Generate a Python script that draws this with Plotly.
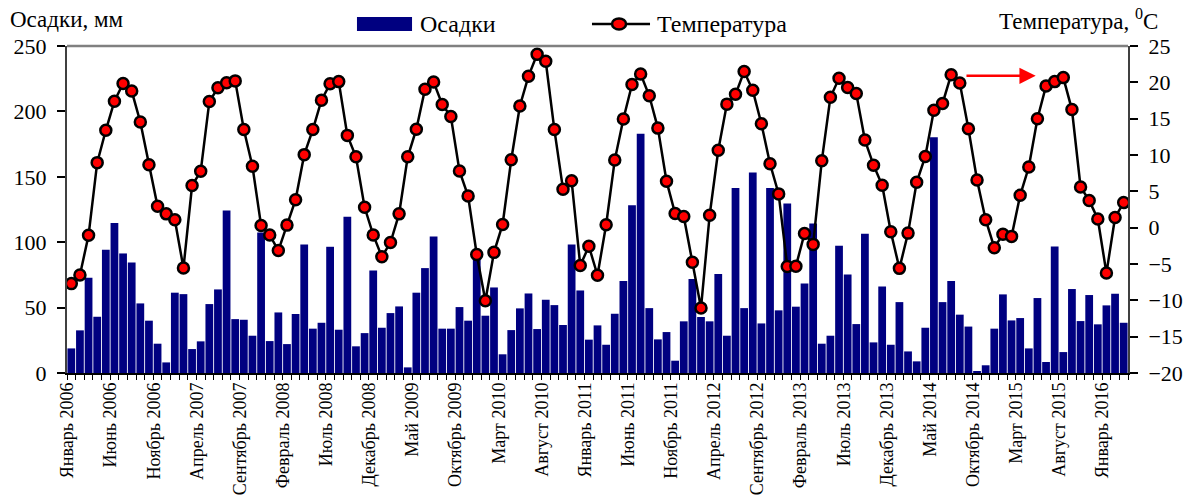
import plotly.graph_objects as go

# Monthly precipitation (mm) and mean air temperature (deg C), January 2006 - March 2016
precip = [
    18.8, 32.6, 72.8, 43.0, 94.2, 114.6, 91.4, 84.5, 53.2, 40.0, 22.4, 8.1,
    61.4, 60.3, 18.3, 24.2, 52.7, 63.9, 124.2, 41.2, 40.7, 28.5, 107.4, 24.4,
    46.3, 22.1, 45.1, 98.3, 33.9, 38.4, 96.5, 33.1, 119.4, 20.4, 30.5, 78.4,
    34.6, 45.8, 50.9, 4.3, 61.4, 80.2, 104.4, 33.9, 33.9, 50.4, 40.0, 91.6,
    43.8, 65.4, 14.3, 32.8, 49.4, 60.8, 33.6, 56.0, 51.9, 36.7, 98.3, 63.1,
    25.5, 36.4, 21.6, 45.3, 70.3, 128.3, 183.0, 49.6, 25.7, 31.3, 9.4, 39.5,
    71.8, 42.8, 39.5, 75.6, 28.5, 141.5, 49.6, 153.3, 37.9, 141.5, 47.9, 129.6,
    50.7, 68.5, 114.3, 22.4, 28.5, 97.3, 75.4, 37.4, 106.4, 23.4, 66.2, 21.6,
    54.2, 16.5, 8.9, 34.6, 180.2, 54.2, 70.3, 44.6, 35.5, 1.5, 5.9, 33.9,
    60.1, 40.2, 42.0, 18.8, 57.3, 8.4, 96.7, 16.0, 64.2, 39.7, 59.6, 37.2,
    51.7, 60.6, 38.4,
]

temperature = [
    -7.7, -6.5, -1.05, 8.95, 13.4, 17.4, 19.85, 18.8, 14.55, 8.65, 2.95, 1.9,
    1.1, -5.55, 5.8, 7.75, 17.35, 19.25, 19.95, 20.2, 13.5, 8.45, 0.3, -1.0,
    -3.15, 0.35, 3.85, 10.05, 13.5, 17.55, 19.8, 20.1, 12.7, 9.75, 2.8, -1.0,
    -4.0, -2.05, 1.9, 9.75, 13.55, 19.05, 20.05, 16.95, 15.3, 7.8, 4.35, -3.7,
    -10.05, -3.4, 0.45, 9.35, 16.75, 20.85, 23.85, 22.9, 13.5, 5.3, 6.45, -5.2,
    -2.55, -6.55, 0.4, 9.3, 14.95, 19.7, 21.15, 18.15, 13.7, 6.4, 1.95, 1.55,
    -4.75, -11.05, 1.7, 10.65, 17.0, 18.35, 21.5, 18.9, 14.3, 8.8, 4.65, -5.35,
    -5.3, -0.8, -2.3, 9.2, 17.95, 20.55, 19.3, 18.45, 12.05, 8.6, 5.85, -0.55,
    -5.6, -0.75, 6.25, 9.8, 16.15, 17.1, 21.05, 19.9, 13.6, 6.55, 1.1, -2.75,
    -0.9, -1.2, 4.45, 8.35, 15.0, 19.5, 20.1, 20.65, 16.25, 5.6, 3.75, 1.2,
    -6.25, 1.4, 3.45,
]

# Every fifth month is labelled on the time axis
tick_labels = [
    "Январь 2006", "Июнь 2006", "Ноябрь 2006", "Апрель 2007", "Сентябрь 2007",
    "Февраль 2008", "Июль 2008", "Декабрь 2008", "Май 2009", "Октябрь 2009",
    "Март 2010", "Август 2010", "Январь 2011", "Июнь 2011", "Ноябрь 2011",
    "Апрель 2012", "Сентябрь 2012", "Февраль 2013", "Июль 2013", "Декабрь 2013",
    "Май 2014", "Октябрь 2014", "Март 2015", "Август 2015", "Январь 2016",
]
label_step = 5

precip_ticks = [0, 50, 100, 150, 200, 250]
temp_ticks = [-20, -15, -10, -5, 0, 5, 10, 15, 20, 25]

# Horizontal arrow drawn above the 2015 summer peak (month index, deg C)
arrow_start = 103.6
arrow_end = 111.8
arrow_level = 20.9

FONT = "Liberation Serif"
NAVY = "#000080"
AXIS_GREY = "#404040"

months = list(range(len(precip)))
n = len(months)
x_range = [-0.5, n - 0.5]
label_pos = [i * label_step - 0.45 for i in range(len(tick_labels))]

fig = go.Figure()

fig.add_trace(go.Bar(
    x=months, y=precip, name="Осадки",
    marker=dict(color=NAVY, line=dict(width=0)),
    xaxis="x", yaxis="y", showlegend=False,
))

fig.add_trace(go.Scatter(
    x=months, y=temperature, name="Температура", mode="lines+markers",
    line=dict(color="black", width=2.5),
    marker=dict(color="#ff0000", size=11, line=dict(color="black", width=2.5)),
    xaxis="x", yaxis="y2", showlegend=False,
))

# empty carrier trace so the month-label axis gets drawn
fig.add_trace(go.Scatter(
    x=label_pos, y=[0] * len(label_pos), mode="markers",
    marker=dict(size=1, opacity=0), hoverinfo="skip",
    xaxis="x2", yaxis="y", showlegend=False,
))

fig.update_layout(
    width=1183, height=495,
    margin=dict(l=67, r=55, t=46, b=122, autoexpand=False),
    paper_bgcolor="white", plot_bgcolor="white",
    bargap=0.1,
    font=dict(family=FONT, size=22, color="black"),
    xaxis=dict(
        range=x_range, tickmode="linear", tick0=-0.5, dtick=1,
        ticks="outside", ticklen=5, tickwidth=1, tickcolor="black",
        showticklabels=False, showgrid=False, zeroline=False,
        showline=True, linecolor="black", linewidth=2, automargin=False,
    ),
    xaxis2=dict(
        overlaying="x", anchor="y", side="bottom", range=x_range,
        tickmode="array", tickvals=label_pos, ticktext=tick_labels,
        tickangle=-90, ticks="", showgrid=False, zeroline=False, showline=False,
        tickfont=dict(family=FONT, size=18), ticklabelstandoff=5,
        automargin=False,
    ),
    yaxis=dict(
        range=[0, 250], tickmode="array", tickvals=precip_ticks,
        ticks="outside", ticklen=8, tickwidth=1.5, tickcolor="black",
        showgrid=False, zeroline=False, showline=True,
        linecolor=AXIS_GREY, linewidth=2, automargin=False,
        tickfont=dict(family=FONT, size=22), ticklabelstandoff=6,
    ),
    yaxis2=dict(
        range=[-20, 25], tickmode="array", tickvals=temp_ticks,
        overlaying="y", side="right", anchor="x",
        ticks="outside", ticklen=8, tickwidth=1.5, tickcolor="black",
        showgrid=False, zeroline=False, showline=True,
        linecolor=AXIS_GREY, linewidth=2, automargin=False,
        tickfont=dict(family=FONT, size=22), ticklabelstandoff=6,
    ),
    # inner halves of the crossing tick marks
    yaxis3=dict(
        range=[0, 250], tickmode="array", tickvals=precip_ticks,
        overlaying="y", side="left", anchor="x",
        ticks="inside", ticklen=8, tickwidth=1.5, tickcolor="black",
        showticklabels=False, showgrid=False, zeroline=False, showline=False,
    ),
    yaxis4=dict(
        range=[-20, 25], tickmode="array", tickvals=temp_ticks,
        overlaying="y", side="right", anchor="x",
        ticks="inside", ticklen=8, tickwidth=1.5, tickcolor="black",
        showticklabels=False, showgrid=False, zeroline=False, showline=False,
    ),
)

# upper frame line of the plot area
fig.add_shape(type="line", xref="paper", yref="paper", x0=0, x1=1, y0=1, y1=1,
              line=dict(color="#808080", width=2.5), layer="above")

# hand-made legend row above the plot
fig.add_shape(type="rect", xref="paper", yref="paper",
              x0=0.2733, x1=0.3252, y0=1.0459, y1=1.0887,
              fillcolor=NAVY, line=dict(width=0))
fig.add_annotation(text="Осадки", xref="paper", yref="paper", x=0.3308, y=1.0673,
                   xanchor="left", yanchor="middle", showarrow=False,
                   font=dict(family=FONT, size=24))
fig.add_shape(type="line", xref="paper", yref="paper",
              x0=0.4948, x1=0.5495, y0=1.0673, y1=1.0673,
              line=dict(color="black", width=2.5))
fig.add_shape(type="circle", xref="paper", yref="paper",
              xsizemode="pixel", ysizemode="pixel",
              xanchor=0.5203, yanchor=1.0673, x0=-7, x1=7, y0=-5.5, y1=5.5,
              fillcolor="#ff0000", line=dict(color="black", width=2.5))
fig.add_annotation(text="Температура", xref="paper", yref="paper", x=0.5542, y=1.0673,
                   xanchor="left", yanchor="middle", showarrow=False,
                   font=dict(family=FONT, size=24))

# axis titles
fig.add_annotation(text="Осадки, мм", xref="paper", yref="paper", x=-0.0556, y=1.08,
                   xanchor="left", yanchor="middle", showarrow=False,
                   font=dict(family=FONT, size=23))
fig.add_annotation(text="Температура, <sup>0</sup>C", xref="paper", yref="paper",
                   x=1.0302, y=1.08, xanchor="right", yanchor="middle",
                   showarrow=False, font=dict(family=FONT, size=23))

# red arrow
fig.add_annotation(x=arrow_end, y=arrow_level, xref="x", yref="y2",
                   ax=arrow_start, ay=arrow_level, axref="x", ayref="y2",
                   showarrow=True, arrowhead=2, arrowsize=1.3, arrowwidth=2.5,
                   arrowcolor="#ff0000", text="")

fig.write_html("out.html")
